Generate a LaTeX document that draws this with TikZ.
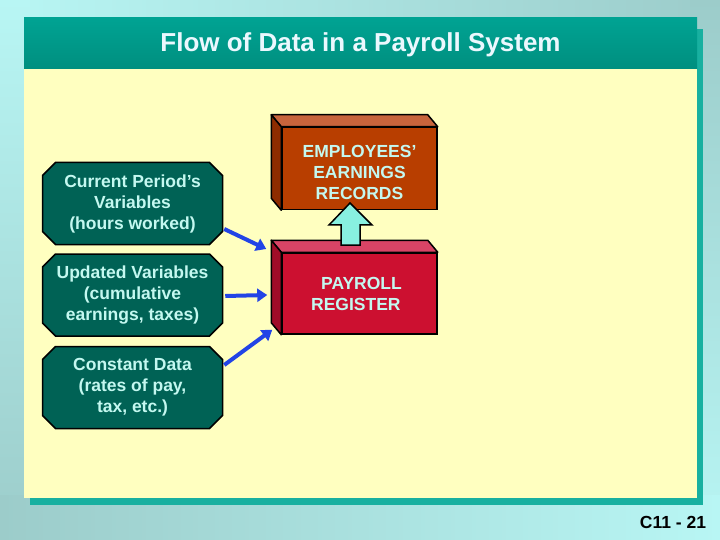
\documentclass[tikz,border=0pt]{standalone}
\usepackage{fontspec}
\setmainfont{Liberation Sans}
\usetikzlibrary{positioning,arrows.meta,shapes.misc}
\definecolor{skylt}{HTML}{B8F6F4}
\definecolor{skydk}{HTML}{9CCCCA}
\definecolor{barteal}{HTML}{00A393}
\definecolor{bartealdk}{HTML}{008F7F}
\definecolor{shadteal}{HTML}{18B0A0}
\definecolor{paper}{HTML}{FFFFC0}
\definecolor{boxteal}{HTML}{006255}
\definecolor{boxtext}{HTML}{C4F8F0}
\definecolor{rustfront}{HTML}{B83E00}
\definecolor{rusttop}{HTML}{C8643C}
\definecolor{rustside}{HTML}{8E2C00}
\definecolor{redfront}{HTML}{CC1030}
\definecolor{redtop}{HTML}{D84466}
\definecolor{redside}{HTML}{A00C28}
\definecolor{flowblue}{HTML}{2244E6}
\definecolor{upcyan}{HTML}{88F0E0}
\tikzset{%
datbox/.style={chamfered rectangle,chamfered rectangle xsep=6.5pt,chamfered rectangle ysep=6.5pt,draw=black,line width=1.5pt,fill=boxteal,text=boxtext,minimum width=180pt,minimum height=82pt,inner sep=0pt,align=center,font=\fontsize{17.5}{21}\selectfont\bfseries},
ledger/.style={draw=black,line width=1.5pt,minimum width=155pt,minimum height=82pt,inner sep=0pt,align=center,text=boxtext,font=\fontsize{17.5}{21}\selectfont\bfseries},
facet/.style={draw=black,line width=1.5pt,line join=round},
flow/.style={-{Triangle[length=10pt,width=13pt]},line width=4pt,draw=flowblue},
hollow/.style={draw=black,line width=1.5pt,fill=upcyan,line join=miter},
heading/.style={text=white!92!cyan,font=\fontsize{26}{30}\selectfont\bfseries},
pageno/.style={font=\fontsize{17.5}{20}\selectfont\bfseries}
}

\begin{document}
\begin{tikzpicture}[x=1pt,y=-1pt]

    \useasboundingbox (0,0) rectangle (720,540);

    \shade[left color=skylt,right color=skydk] (0,0) rectangle (720,30);
    \shade[top color=skydk,bottom color=skylt] (690,0) rectangle (720,540);
    \shade[top color=skylt,bottom color=skydk] (0,0) rectangle (30,540);
    \shade[left color=skydk,right color=skylt] (0,495) rectangle (720,540);
    \fill[skylt!50!skydk] (30,30) rectangle (690,495);

    \fill[shadteal] (30,29) rectangle (703,505);
    \shade[top color=barteal,bottom color=bartealdk] (24,18) rectangle (697,69);
    \fill[paper] (24,69) rectangle (697,498);

    \node[heading] (title) at (360.5,45) {Flow of Data in a Payroll System};


    \node[datbox] (cur) at (132.5,203.5) {Current Period’s\\Variables\\(hours worked)};
    \node[datbox] (upd) [below=8pt of cur] {Updated Variables\\(cumulative\\earnings, taxes)};
    \node[datbox] (con) [below=9pt of upd] {Constant Data\\(rates of pay,\\tax, etc.)};


    \node[ledger,fill=rustfront] (emp) at (359.5,168.5) {\rule{0pt}{20.5pt}EMPLOYEES’\\EARNINGS\\RECORDS};
    \path[facet,fill=rusttop] (emp.north west) -- ++(-10,-12) -- ([shift={(-10,-12)}]emp.north east) -- (emp.north east) -- cycle;
    \path[facet,fill=rustside] (emp.north west) -- ++(-10,-12) -- ([shift={(-10,-12)}]emp.south west) -- (emp.south west) -- cycle;

    \node[ledger,fill=redfront,minimum height=81pt,align=left] (pay) [below=42pt of emp] {\hspace*{10pt}PAYROLL\hspace*{6pt}\\REGISTER};
    \path[facet,fill=redtop] (pay.north west) -- ++(-10,-12) -- ([shift={(-10,-12)}]pay.north east) -- (pay.north east) -- cycle;
    \path[facet,fill=redside] (pay.north west) -- ++(-10,-12) -- ([shift={(-10,-12)}]pay.south west) -- (pay.south west) -- cycle;

    \coordinate (uptip) at (350,203);
    \path[hollow] (uptip) -- ++(22,22) -- ++(-12,0) -- ++(0,20) -- ++(-19,0) -- ++(0,-20) -- ++(-12,0) -- cycle;


    \draw[flow] ([shift={(1,25.5)}]cur.east) -- ([shift={(-15,-44.5)}]pay.west);
    \draw[flow] ([shift={(2,1)}]upd.east) -- ([shift={(-14,1.5)}]pay.west);
    \draw[flow] ([shift={(1,-22.5)}]con.east) -- ([shift={(-9,-5)}]pay.south west);

    \node[pageno] (num) at (673,522) {C11 - 21};
  \end{tikzpicture}
\end{document}
